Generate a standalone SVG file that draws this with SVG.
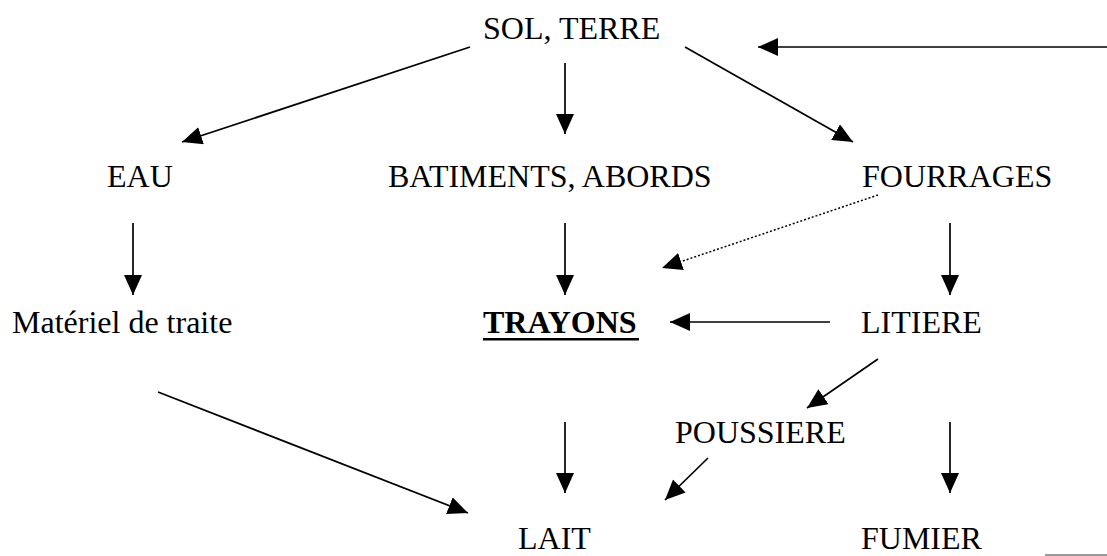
<svg xmlns="http://www.w3.org/2000/svg" width="1107" height="556" viewBox="0 0 1107 556">
<style>
.t{font-family:'Liberation Serif','Times New Roman',Times,serif;font-size:32px;fill:#000}
.b{font-weight:bold}
.c line{stroke:#000;stroke-width:1.7;fill:none}
.c .d{stroke-width:1.5;stroke-dasharray:2 2}
</style>
<defs>
<marker id="ah" markerUnits="userSpaceOnUse" markerWidth="22" markerHeight="20" refX="20" refY="9" orient="auto" viewBox="0 0 22 20">
<path d="M0,0 L20,9 L0,18 z" fill="#000"/>
</marker>
</defs>
<rect width="1107" height="556" fill="#fff"/>
<g class="t">
<g id="sol"><text x="483" y="39">SOL, TERRE</text></g>
<g id="eau"><text x="107" y="187">EAU</text></g>
<g id="batiments"><text x="388" y="187">BATIMENTS, ABORDS</text></g>
<g id="fourrages"><text x="862" y="187">FOURRAGES</text></g>
<g id="materiel"><text x="12" y="333">Matériel de traite</text></g>
<g id="trayons"><text class="b" x="483" y="333">TRAYONS</text><rect x="483" y="338" width="156" height="2.5" fill="#000"/></g>
<g id="litiere"><text x="861" y="333">LITIERE</text></g>
<g id="poussiere"><text x="675" y="443">POUSSIERE</text></g>
<g id="lait"><text x="518" y="549">LAIT</text></g>
<g id="fumier"><text x="861" y="549">FUMIER</text></g>
</g>
<g class="c" id="connectors">
<line x1="470" y1="47" x2="182" y2="142" marker-end="url(#ah)"/>
<line x1="565" y1="63" x2="565" y2="134" marker-end="url(#ah)"/>
<line x1="685" y1="47" x2="853" y2="142" marker-end="url(#ah)"/>
<line x1="1107" y1="47" x2="758" y2="47" marker-end="url(#ah)"/>
<line x1="133" y1="223" x2="133" y2="295" marker-end="url(#ah)"/>
<line x1="565" y1="223" x2="565" y2="295" marker-end="url(#ah)"/>
<line x1="950" y1="223" x2="950" y2="295" marker-end="url(#ah)"/>
<line class="d" x1="878" y1="195" x2="662" y2="268" marker-end="url(#ah)"/>
<line x1="830" y1="322" x2="670" y2="322" marker-end="url(#ah)"/>
<line x1="878" y1="359" x2="807" y2="408" marker-end="url(#ah)"/>
<line x1="158" y1="392" x2="468" y2="513" marker-end="url(#ah)"/>
<line x1="565" y1="422" x2="565" y2="493" marker-end="url(#ah)"/>
<line x1="708" y1="458" x2="665" y2="500" marker-end="url(#ah)"/>
<line x1="950" y1="422" x2="950" y2="493" marker-end="url(#ah)"/>
<line x1="1045" y1="555" x2="1107" y2="555" style="stroke:#777;stroke-width:1.5"/>
</g>
</svg>
